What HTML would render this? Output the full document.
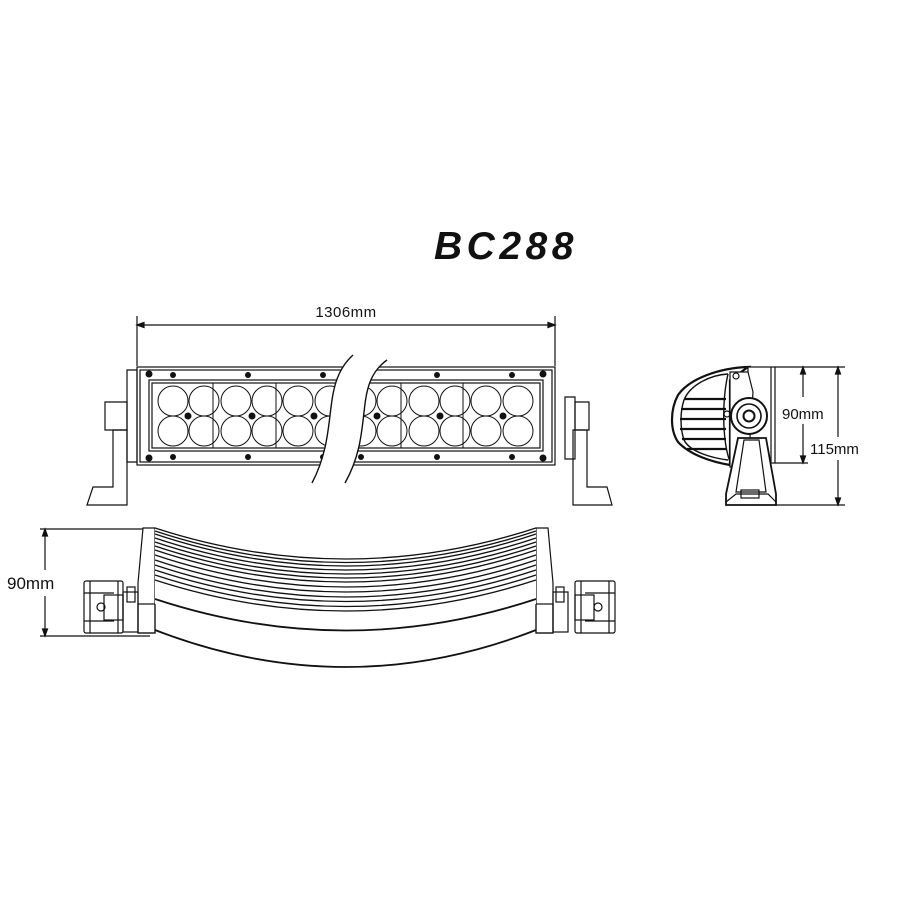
<!DOCTYPE html>
<html><head><meta charset="utf-8"><style>
html,body{margin:0;padding:0;background:#fff}
svg{display:block}
text{font-family:"Liberation Sans",sans-serif;fill:#111}
</style></head><body>
<svg width="900" height="900" viewBox="0 0 900 900" xmlns="http://www.w3.org/2000/svg" fill="none" stroke="#111" stroke-width="1.2">
<text x="434" y="259" font-size="39" font-weight="bold" font-style="italic" stroke="none" letter-spacing="4.5">BC288</text>

<!-- 1306mm dimension -->
<line x1="137" y1="316" x2="137" y2="366"/>
<line x1="555" y1="316" x2="555" y2="366"/>
<line x1="137" y1="325" x2="555" y2="325"/>
<path d="M137 325 l7 -2.5 v5z M555 325 l-7 -2.5 v5z" fill="#111"/>
<text x="346" y="317" font-size="15" stroke="none" text-anchor="middle" letter-spacing="0.5">1306mm</text>

<!-- front view brackets -->
<path d="M127 370 h10 v92 h-10z"/>
<path d="M105 402 h22 v28 h-22z"/>
<path d="M113 430 h14 v75 h-40 l6 -18 h20z"/>
<path d="M565 397 h10 v62 h-10z"/>
<path d="M575 402 h14 v28 h-14z"/>
<path d="M573 430 h14 v57 h20 l5 18 h-39z"/>
<!-- front body -->
<rect x="137" y="367" width="418" height="98"/>
<rect x="140" y="370" width="412" height="92"/>
<rect x="149" y="380" width="394" height="71"/>
<rect x="152" y="383" width="388" height="65"/>
<g stroke-width="1">
<line x1="213" y1="383" x2="213" y2="448"/><line x1="276" y1="383" x2="276" y2="448"/>
<line x1="338" y1="383" x2="338" y2="448"/><line x1="401" y1="383" x2="401" y2="448"/>
<line x1="463" y1="383" x2="463" y2="448"/>
</g>
<g stroke-width="1">
<circle cx="173" cy="401" r="15"/><circle cx="204" cy="401" r="15"/><circle cx="236" cy="401" r="15"/><circle cx="267" cy="401" r="15"/><circle cx="298" cy="401" r="15"/><circle cx="330" cy="401" r="15"/><circle cx="361" cy="401" r="15"/><circle cx="392" cy="401" r="15"/><circle cx="424" cy="401" r="15"/><circle cx="455" cy="401" r="15"/><circle cx="486" cy="401" r="15"/><circle cx="518" cy="401" r="15"/>
<circle cx="173" cy="431" r="15"/><circle cx="204" cy="431" r="15"/><circle cx="236" cy="431" r="15"/><circle cx="267" cy="431" r="15"/><circle cx="298" cy="431" r="15"/><circle cx="330" cy="431" r="15"/><circle cx="361" cy="431" r="15"/><circle cx="392" cy="431" r="15"/><circle cx="424" cy="431" r="15"/><circle cx="455" cy="431" r="15"/><circle cx="486" cy="431" r="15"/><circle cx="518" cy="431" r="15"/>
</g>
<g fill="#111" stroke="none">
<circle cx="188" cy="416" r="3.5"/><circle cx="252" cy="416" r="3.5"/><circle cx="314" cy="416" r="3.5"/><circle cx="377" cy="416" r="3.5"/><circle cx="440" cy="416" r="3.5"/><circle cx="503" cy="416" r="3.5"/>
<circle cx="149" cy="374" r="3.5"/><circle cx="173" cy="375" r="3"/><circle cx="248" cy="375" r="3"/><circle cx="323" cy="375" r="3"/><circle cx="437" cy="375" r="3"/><circle cx="512" cy="375" r="3"/><circle cx="543" cy="374" r="3.5"/>
<circle cx="149" cy="458" r="3.5"/><circle cx="173" cy="457" r="3"/><circle cx="248" cy="457" r="3"/><circle cx="323" cy="457" r="3"/><circle cx="361" cy="457" r="3"/><circle cx="437" cy="457" r="3"/><circle cx="512" cy="457" r="3"/><circle cx="543" cy="458" r="3.5"/>
</g>
<!-- break -->
<path d="M353 355 C320 385 340 430 312 483 L345 483 C375 430 352 385 387 360 Z" fill="#fff" stroke="none"/>
<path d="M353 355 C320 385 340 430 312 483" stroke-width="1.4"/>
<path d="M387 360 C352 385 375 430 345 483" stroke-width="1.4"/>

<!-- side view -->
<path d="M748 367 C720 368 690 378 678 395 C670 410 670 430 678 442 C690 455 712 462 730 465 L730 380 Z" fill="#fff" stroke-width="2.2"/>
<path d="M728 374 C710 375 690 385 684 400 C680 412 680 428 684 440 C690 452 712 458 728 460" stroke-width="1.4"/>
<g stroke-width="2.2"><line x1="684" y1="399" x2="726" y2="399"/><line x1="681" y1="409" x2="726" y2="409"/><line x1="680" y1="419" x2="726" y2="419"/><line x1="680" y1="429" x2="726" y2="429"/><line x1="682" y1="439" x2="726" y2="439"/><line x1="687" y1="449" x2="726" y2="449"/></g>
<path d="M728 374 C722 400 722 440 730 462" stroke-width="1.4"/>
<rect x="748" y="367" width="27" height="96" fill="#fff"/>
<line x1="771" y1="367" x2="771" y2="463"/>
<path d="M730 372 h18 l5 20 l-5 75 h-18z" fill="#fff"/>
<circle cx="736" cy="376" r="3"/><circle cx="727" cy="414" r="3"/>
<path d="M738 438 l-12 56 v11 h50 v-11 l-10 -56z" fill="#fff" stroke-width="1.8"/>
<path d="M744 440 l-8 52 h30 l-7 -52z"/>
<path d="M726 502 l10 -8 h32 l8 8" />
<rect x="741" y="490" width="18" height="8"/>
<circle cx="749" cy="416" r="18" fill="#fff" stroke-width="2"/>
<circle cx="749" cy="416" r="12" stroke-width="1.6"/>
<circle cx="749" cy="416" r="5.5" stroke-width="2"/>
<!-- side dims -->
<line x1="775" y1="367" x2="845" y2="367"/>
<line x1="775" y1="463" x2="808" y2="463"/>
<line x1="775" y1="505" x2="845" y2="505"/>
<line x1="803" y1="367" x2="803" y2="397"/><line x1="803" y1="424" x2="803" y2="463"/>
<path d="M803 367 l-2.5 7 h5z M803 463 l-2.5 -7 h5z" fill="#111"/>
<line x1="838" y1="367" x2="838" y2="437"/><line x1="838" y1="460" x2="838" y2="505"/>
<path d="M838 367 l-2.5 7 h5z M838 505 l-2.5 -7 h5z" fill="#111"/>
<text x="782" y="419" font-size="15" stroke="none">90mm</text>
<text x="810" y="454" font-size="15" stroke="none">115mm</text>

<!-- bottom view -->
<line x1="40" y1="529" x2="145" y2="529"/>
<line x1="40" y1="636" x2="150" y2="636"/>
<line x1="45" y1="529" x2="45" y2="570"/><line x1="45" y1="596" x2="45" y2="636"/>
<path d="M45 529 l-2.5 7 h5z M45 636 l-2.5 -7 h5z" fill="#111"/>
<text x="7" y="589" font-size="17" stroke="none">90mm</text>
<!-- end pieces -->
<path d="M143 528 h12 v105 h-17 v-50z" fill="#fff"/>
<rect x="138" y="604" width="17" height="29"/>
<path d="M548 528 h-12 v105 h17 v-50z" fill="#fff"/>
<rect x="536" y="604" width="17" height="29"/>
<!-- caps -->
<g>
<rect x="123" y="592" width="15" height="40"/><rect x="127" y="587" width="8" height="15"/>
<rect x="84" y="581" width="39" height="52" rx="2"/>
<path d="M90 581 v52 M118 581 v52 M84 593 h30 M84 621 h30"/>
<rect x="104" y="595" width="19" height="25"/>
<circle cx="101" cy="607" r="4"/>
<rect x="553" y="592" width="15" height="40"/><rect x="556" y="587" width="8" height="15"/>
<rect x="575" y="581" width="40" height="52" rx="2"/>
<path d="M581 581 v52 M609 581 v52 M585 593 h30 M585 621 h30"/>
<rect x="575" y="595" width="19" height="25"/>
<circle cx="598" cy="607" r="4"/>
</g>
<!-- curved body -->
<path d="M155 528 Q346 590 536 528 V604 Q346 678 155 604Z" fill="#fff" stroke="none"/>
<g stroke-width="1.3">
<path d="M155 528 Q346 590 536 528"/>
<path d="M155 531 Q346 594 536 531"/>
<path d="M155 534 Q346 598 536 534"/>
<path d="M155 538 Q346 602 536 538"/>
<path d="M155 542 Q346 606 536 542"/>
<path d="M155 546 Q346 610 536 546"/>
<path d="M155 550 Q346 614 536 550"/>
<path d="M155 555 Q346 619 536 555"/>
<path d="M155 560 Q346 624 536 560"/>
<path d="M155 565 Q346 629 536 565"/>
<path d="M155 570 Q346 633 536 570"/>
<path d="M155 575 Q346 638 536 575"/>
<path d="M155 580 Q346 642 536 580"/>
<path d="M155 599 Q346 662 536 599" stroke-width="1.8"/>
<path d="M155 630 Q346 704 536 630" stroke-width="1.8"/>
</g>
</svg>
</body></html>
